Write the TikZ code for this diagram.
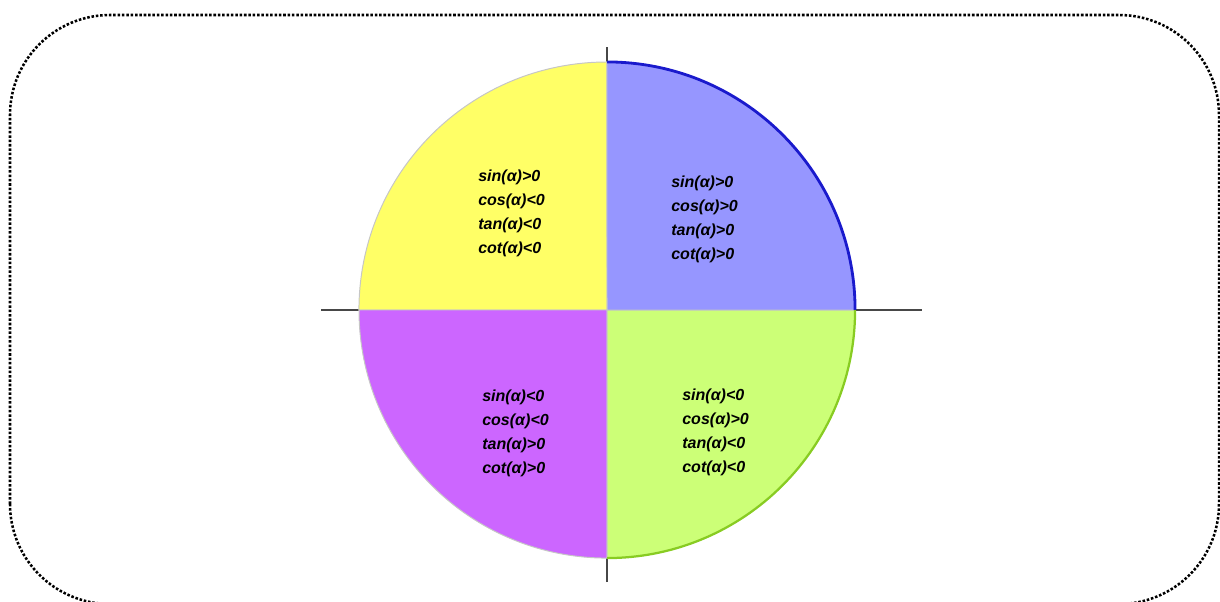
\documentclass[tikz,border=0pt]{standalone}
\usepackage{fontspec}
\setmainfont{Liberation Sans}
\definecolor{quadI}{HTML}{9696FF}
\definecolor{quadII}{HTML}{FFFF66}
\definecolor{quadIII}{HTML}{CC66FF}
\definecolor{quadIV}{HTML}{CCFF77}
\definecolor{rimI}{HTML}{1A1ACC}
\definecolor{rimIV}{HTML}{88CC22}

\begin{document}
\begin{tikzpicture}[x=0.025cm,y=0.025cm,
  signs/.style={align=left,anchor=west,inner sep=0pt,
    font=\fontsize{11.4}{17}\selectfont\bfseries\itshape},
  axis/.style={draw=black!72,line width=1.6pt},
  quad/.style={draw=gray!45,line width=0.7pt}]
  % picture is 1220 x 601 px, one unit = one px, y upwards
  \useasboundingbox (0,0) rectangle (1220,601);
  % dotted frame, bottom edge just below the page
  \draw[line width=1.8pt,dash pattern=on 1.8pt off 1.3pt,rounded corners=2.5cm]
    (10,-3) rectangle (1219,586);
  % centre (radius 248 px = 6.2cm) and axis ends
  \coordinate (O) at (607,291);
  \coordinate (xl) at (321,291);
  \coordinate (xr) at (922,291);
  \coordinate (yb) at (607,19);
  \coordinate (yt) at (607,554);
  \draw[axis] (xl) -- (xr);
  \draw[axis] (yb) -- (yt);
  % quadrants, drawn over the axes
  \filldraw[quad,fill=quadII]  (O) -- ++(0,248) arc[start angle=90,end angle=180,radius=6.2cm] -- cycle;
  \filldraw[quad,fill=quadIII] (O) -- ++(-248,0) arc[start angle=180,end angle=270,radius=6.2cm] -- cycle;
  \filldraw[quad,fill=quadIV]  (O) -- ++(0,-248) arc[start angle=270,end angle=360,radius=6.2cm] -- cycle;
  \filldraw[quad,fill=quadI]   (O) -- ++(248,0) arc[start angle=0,end angle=90,radius=6.2cm] -- cycle;
  % coloured rims
  \draw[rimI,line width=2pt] ([xshift=6.2cm]O) arc[start angle=0,end angle=90,radius=6.2cm];
  \draw[rimIV,line width=1.6pt] ([yshift=-6.2cm]O) arc[start angle=270,end angle=360,radius=6.2cm];
  % signs in each quadrant
  \node[signs] (signsII)  at (478,388) {sin(α)>0\\cos(α)<0\\tan(α)<0\\cot(α)<0};
  \node[signs] (signsI)   at (671,382) {sin(α)>0\\cos(α)>0\\tan(α)>0\\cot(α)>0};
  \node[signs] (signsIII) at (482,168) {sin(α)<0\\cos(α)<0\\tan(α)>0\\cot(α)>0};
  \node[signs] (signsIV)  at (682,169) {sin(α)<0\\cos(α)>0\\tan(α)<0\\cot(α)<0};
\end{tikzpicture}
\end{document}
